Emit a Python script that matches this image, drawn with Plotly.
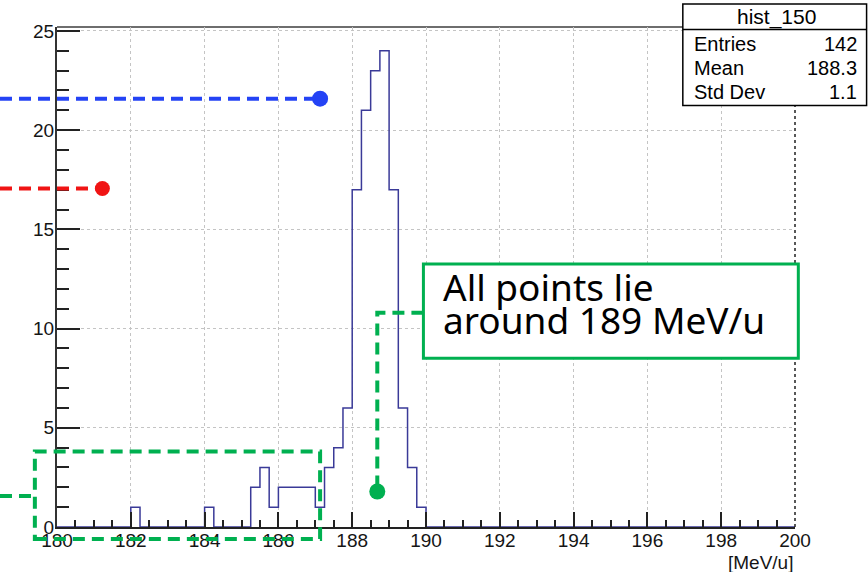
import numpy as np
import plotly.graph_objects as go

# ---- histogram contents (bin width 0.25 MeV/u, range 180-200) ----
X_MIN, X_MAX, BIN_W = 180.0, 200.0, 0.25
Y_MAX = 25.2
bin_low_edges = [182.0, 184.0, 185.25, 185.5, 185.75, 186.0, 186.25, 186.5, 186.75,
                 187.0, 187.25, 187.5, 187.75, 188.0, 188.25, 188.5, 188.75,
                 189.0, 189.25, 189.5, 189.75]
bin_counts = [1, 1, 2, 3, 1, 2, 2, 2, 2,
              1, 3, 4, 6, 17, 21, 23, 24,
              17, 6, 3, 1]

stats_labels = ["Entries", "Mean", "Std Dev"]
stats_values = ["142", "188.3", "1.1"]
hist_name = "hist_150"

x_ticks = list(range(180, 201, 2))
y_ticks = [0, 5, 10, 15, 20, 25]

# ---- callout geometry (data units) ----
fig_left_x = 178.455          # left edge of the canvas
blue_pt = (187.13, 21.59)
red_pt = (181.23, 17.06)
green_pt = (188.68, 1.79)
green_elbow_y = 10.8
note_box = (189.93, 200.09, 8.50, 13.26)      # x0, x1, y0, y1
low_region = (179.40, 187.13, -0.60, 3.80)    # x0, x1, y0, y1
low_region_lead_y = 1.56
note_lines = ["All points lie", "around 189 MeV/u"]
note_text_x = 190.40
note_line_y = [12.13, 10.45]

BLUE = "#2443f5"
RED = "#f01414"
GREEN = "#00b050"
HIST = "#3a3a98"
ROOT_FONT = "Liberation Sans, Arial, sans-serif"


def xp(v):
    return (v - X_MIN) / (X_MAX - X_MIN)


def yp(v):
    return v / Y_MAX


# full step outline over the whole axis range
n_bins = int(round((X_MAX - X_MIN) / BIN_W))
counts = np.zeros(n_bins)
for e, c in zip(bin_low_edges, bin_counts):
    counts[int(round((e - X_MIN) / BIN_W))] = c
edges = X_MIN + BIN_W * np.arange(n_bins + 1)
step_x = np.repeat(edges, 2)[1:-1]
step_y = np.repeat(counts, 2)

fig = go.Figure()
fig.add_trace(go.Scatter(x=step_x, y=step_y, mode="lines",
                         line=dict(color=HIST, width=1.5), hoverinfo="skip"))

for (px, py), col, sz in [(blue_pt, BLUE, 16), (red_pt, RED, 15), (green_pt, GREEN, 16)]:
    fig.add_trace(go.Scatter(x=[px], y=[py], mode="markers", cliponaxis=False,
                             marker=dict(color=col, size=sz, line=dict(width=0))))

DASH = "12px,7px"
shapes = []
# frame: grey top edge and dotted right edge
shapes.append(dict(type="line", xref="paper", yref="paper", x0=0, x1=1, y0=1, y1=1,
                   line=dict(color="#6e6e6e", width=2), layer="below"))
shapes.append(dict(type="line", xref="paper", yref="paper", x0=1, x1=1, y0=0, y1=1,
                   line=dict(color="#222222", width=1.5, dash="dot"), layer="above"))
# blue and red leaders
for (px, py), col in [(blue_pt, BLUE), (red_pt, RED)]:
    shapes.append(dict(type="line", xref="paper", yref="y", x0=xp(fig_left_x), x1=xp(px),
                       y0=py, y1=py, line=dict(color=col, width=4, dash=DASH), layer="above"))
# dashed region around the low-energy tail
rx0, rx1, ry0, ry1 = low_region
shapes.append(dict(type="rect", xref="paper", yref="paper", x0=xp(rx0), x1=xp(rx1),
                   y0=yp(ry0), y1=yp(ry1), line=dict(color=GREEN, width=4, dash=DASH),
                   layer="above"))
shapes.append(dict(type="line", xref="paper", yref="paper", x0=xp(fig_left_x), x1=xp(rx0),
                   y0=yp(low_region_lead_y), y1=yp(low_region_lead_y),
                   line=dict(color=GREEN, width=4, dash=DASH), layer="above"))
# callout box and elbow connector to the green point
bx0, bx1, by0, by1 = note_box
shapes.append(dict(type="rect", xref="paper", yref="paper", x0=xp(bx0), x1=xp(bx1),
                   y0=yp(by0), y1=yp(by1), line=dict(color=GREEN, width=3),
                   fillcolor="white", layer="above"))
shapes.append(dict(type="path", xref="x", yref="y",
                   path=f"M {bx0},{green_elbow_y} L {green_pt[0]},{green_elbow_y} L {green_pt[0]},{green_pt[1]}",
                   line=dict(color=GREEN, width=4, dash=DASH), layer="above"))

# statistics box
sb_x0, sb_x1 = 0.848, 1.097
sb_y0, sb_y1, sb_div = 0.843, 1.046, 0.995
shapes.append(dict(type="rect", xref="paper", yref="paper", x0=sb_x0, x1=sb_x1,
                   y0=sb_y0, y1=sb_y1, line=dict(color="black", width=1.5),
                   fillcolor="white", layer="above"))
shapes.append(dict(type="line", xref="paper", yref="paper", x0=sb_x0, x1=sb_x1,
                   y0=sb_div, y1=sb_div, line=dict(color="black", width=1.5), layer="above"))

annotations = []
annotations.append(dict(xref="paper", yref="paper", x=0.975, y=1.021, text=hist_name,
                        showarrow=False, xanchor="center", yanchor="middle",
                        font=dict(family=ROOT_FONT, size=21, color="black")))
row_y = [0.966, 0.918, 0.870]
for lab, val, ry in zip(stats_labels, stats_values, row_y):
    annotations.append(dict(xref="paper", yref="paper", x=0.861, y=ry, text=lab,
                            showarrow=False, xanchor="left", yanchor="middle",
                            font=dict(family=ROOT_FONT, size=20, color="black")))
    annotations.append(dict(xref="paper", yref="paper", x=1.087, y=ry, text=val,
                            showarrow=False, xanchor="right", yanchor="middle",
                            font=dict(family=ROOT_FONT, size=20, color="black")))
for line_txt, ly in zip(note_lines, note_line_y):
    annotations.append(dict(xref="x", yref="y", x=note_text_x, y=ly, text=line_txt,
                            showarrow=False, xanchor="left", yanchor="middle",
                            font=dict(family="Noto Sans, sans-serif", size=37, color="black")))
annotations.append(dict(xref="paper", yref="paper", x=1.0, y=-0.071, text="[MeV/u]",
                        showarrow=False, xanchor="right", yanchor="middle",
                        font=dict(family=ROOT_FONT, size=19, color="#151515")))

fig.update_layout(
    width=868, height=572,
    margin=dict(l=57, r=73, t=27, b=45),
    paper_bgcolor="white", plot_bgcolor="white",
    showlegend=False,
    shapes=shapes,
    annotations=annotations,
    font=dict(family=ROOT_FONT, size=19, color="#151515"),
)
fig.update_xaxes(
    range=[X_MIN, X_MAX], tickvals=x_ticks, ticktext=[str(t) for t in x_ticks],
    ticks="inside", ticklen=15, tickwidth=1.5, tickcolor="#222222",
    minor=dict(ticks="inside", ticklen=7, tickwidth=1.5, tickcolor="#222222", dtick=0.5, showgrid=False),
    showline=True, linecolor="#222222", linewidth=2,
    showgrid=True, gridcolor="#c4c4c4", griddash="dot", gridwidth=1,
    zeroline=False, tickfont=dict(size=19, color="#151515"), ticklabelstandoff=-5,
)
fig.update_yaxes(
    range=[0, Y_MAX], tickvals=y_ticks, ticktext=[str(t) for t in y_ticks],
    ticks="inside", ticklen=23, tickwidth=1.5, tickcolor="#222222",
    minor=dict(ticks="inside", ticklen=12, tickwidth=1.5, tickcolor="#222222", dtick=1, showgrid=False),
    showline=True, linecolor="#333333", linewidth=2,
    showgrid=True, gridcolor="#c4c4c4", griddash="dot", gridwidth=1,
    zeroline=False, tickfont=dict(size=19, color="#151515"), ticklabelstandoff=-3,
)

fig.write_html("out.html")
